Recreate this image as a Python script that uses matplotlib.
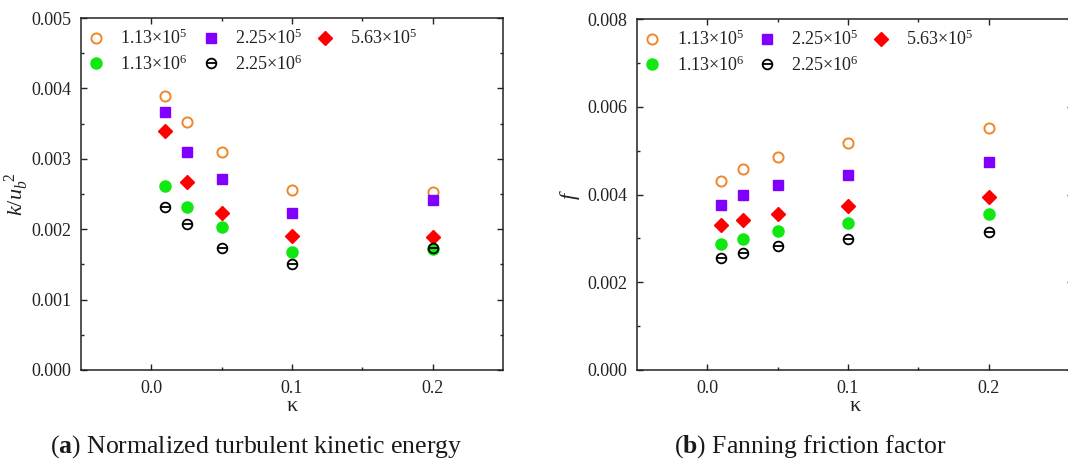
import matplotlib
matplotlib.use("Agg")
import matplotlib.pyplot as plt
from matplotlib.ticker import MultipleLocator, FixedLocator

plt.rcParams['font.family'] = ['Liberation Serif', 'DejaVu Serif']
plt.rcParams['mathtext.fontset'] = 'custom'
plt.rcParams['mathtext.rm'] = 'Liberation Serif'
plt.rcParams['mathtext.it'] = 'Liberation Serif:italic'
plt.rcParams['mathtext.bf'] = 'Liberation Serif:bold'

# curvature values
kappa = [0.01, 0.025, 0.05, 0.1, 0.2]

re_labels = ['1.13×10$^{5}$', '2.25×10$^{5}$', '5.63×10$^{5}$',
             '1.13×10$^{6}$', '2.25×10$^{6}$']

# normalized turbulent kinetic energy k/ub^2
tke_113e5 = [0.00389, 0.00352, 0.00309, 0.00255, 0.00253]
tke_225e5 = [0.00367, 0.00309, 0.00272, 0.00223, 0.00242]
tke_563e5 = [0.00339, 0.00267, 0.00223, 0.00190, 0.00189]
tke_113e6 = [0.00262, 0.00232, 0.00203, 0.00168, 0.00172]
tke_225e6 = [0.00232, 0.00207, 0.00174, 0.00150, 0.00173]

# fanning friction factor f
f_113e5 = [0.00431, 0.00459, 0.00485, 0.00517, 0.00551]
f_225e5 = [0.00376, 0.00400, 0.00422, 0.00444, 0.00475]
f_563e5 = [0.00330, 0.00343, 0.00356, 0.00374, 0.00394]
f_113e6 = [0.00287, 0.00299, 0.00317, 0.00334, 0.00355]
f_225e6 = [0.00256, 0.00267, 0.00282, 0.00298, 0.00315]

W, H = 1068, 461
fig = plt.figure(figsize=(W / 100, H / 100), dpi=100)

TXT = '#222222'


def px_axes(left, right, top, bottom):
    return fig.add_axes([left / W, 1 - bottom / H, (right - left) / W, (bottom - top) / H])


def draw_panel(ax, series, ymax, ystep, ylabel, xmax, ylabelpad):
    handles = {}
    h, = ax.plot(kappa, series[0], 'o', ms=7.3, mfc='white', mec='#F0862A', mew=1.4, ls='none')
    handles[0] = h
    h, = ax.plot(kappa, series[1], 's', ms=6.8, color='#8000FF', mec='#8000FF', ls='none')
    handles[1] = h
    h, = ax.plot(kappa, series[2], 'D', ms=6.8, color='#FF0000', mec='#FF0000', ls='none')
    handles[2] = h
    h, = ax.plot(kappa, series[3], 'o', ms=8.0, color='#11E811', mec='#11E811', ls='none')
    handles[3] = h
    c, = ax.plot(kappa, series[4], 'o', ms=7.0, mfc='none', mec='black', mew=1.3, ls='none')
    b, = ax.plot(kappa, series[4], '_', ms=7.0, color='black', mew=1.3, ls='none')
    handles[4] = (c, b)

    ax.set_xlim(-0.05, xmax)
    ax.set_ylim(0, ymax)
    ax.xaxis.set_major_locator(FixedLocator([0.0, 0.1, 0.2]))
    ax.xaxis.set_minor_locator(FixedLocator([0.05, 0.15]))
    ax.yaxis.set_major_locator(MultipleLocator(ystep))
    ax.yaxis.set_minor_locator(MultipleLocator(ystep / 2))
    ax.set_xticklabels(['0.0', '0.1', '0.2'])
    ax.yaxis.set_major_formatter(plt.FuncFormatter(lambda v, p: f'{v:.3f}'))
    ax.tick_params(which='both', direction='in', top=True, right=True,
                   labelsize=13, labelcolor=TXT, color='#222222', width=1.0)
    ax.tick_params(which='major', length=4.5, pad=7)
    ax.tick_params(which='minor', length=2.5)
    for s in ax.spines.values():
        s.set_linewidth(1.1)
        s.set_color('#222222')

    ax.set_xlabel('κ', fontsize=16, color=TXT, labelpad=0)
    ax.set_ylabel(ylabel, fontsize=16, color=TXT, labelpad=ylabelpad)

    order = [0, 3, 1, 4, 2]
    ax.legend([handles[i] for i in order], [re_labels[i] for i in order],
              ncol=3, loc='upper left', bbox_to_anchor=(6 / 422, 1 - 11 / 352),
              frameon=False, fontsize=13, borderpad=0, borderaxespad=0,
              handlelength=1.0, handletextpad=0.85, columnspacing=0.75,
              labelspacing=0.33, labelcolor=TXT)


ax1 = px_axes(81, 503, 18, 370)
draw_panel(ax1, [tke_113e5, tke_225e5, tke_563e5, tke_113e6, tke_225e6],
           0.005, 0.001, r'$k/u_b^{\;\;2}$', 0.25, 0)

ax2 = px_axes(637, 1073, 19, 370)
draw_panel(ax2, [f_113e5, f_225e5, f_563e5, f_113e6, f_225e6],
           0.008, 0.002, r'$f$', 0.25 + 14 / 1410, 4)

fig.text(256 / W, 1 - 447 / H, r'($\mathbf{a}$) Normalized turbulent kinetic energy',
         ha='center', va='center', fontsize=18.5, color='#1a1a1a')
fig.text(810 / W, 1 - 447 / H, r'($\mathbf{b}$) Fanning friction factor',
         ha='center', va='center', fontsize=18.5, color='#1a1a1a')

fig.savefig('out.png', dpi=100)
